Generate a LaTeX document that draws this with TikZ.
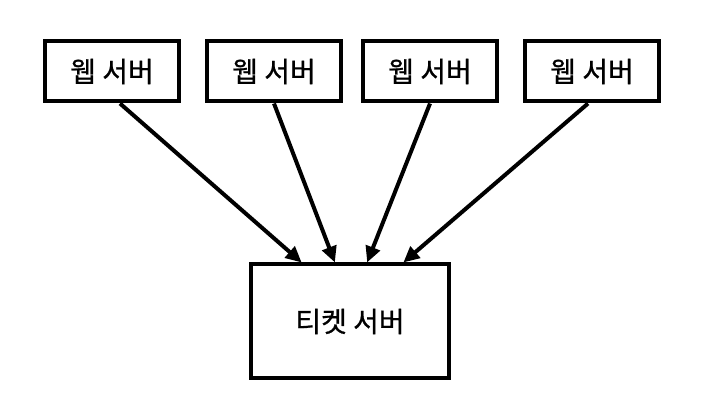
\documentclass[tikz,border=0pt]{standalone}
\usepackage{fontspec}
\setmainfont{Noto Sans CJK KR}
\newfontfamily\srvfont{Noto Sans CJK KR}[FakeBold=0.8]
\usetikzlibrary{calc,arrows.meta}
\tikzset{
  srvbox/.style={draw, line width=3pt, minimum width=101pt, minimum height=45pt, font=\fontsize{21}{25}\selectfont\srvfont},
  ticketbox/.style={draw, line width=3pt, minimum width=148pt, minimum height=85.5pt, font=\fontsize{21}{25}\selectfont\srvfont},
  req/.style={line width=3pt, -{Triangle[length=12pt,width=11pt]}}
}

\begin{document}
\begin{tikzpicture}[x=0.75pt,y=0.75pt]
\useasboundingbox (0,0) rectangle (720,420);
\node[srvbox] (w1) at (112,348.5) {웹 서버};
\node[srvbox] (w2) at (274,348.5) {웹 서버};
\node[srvbox] (w3) at (430,348.5) {웹 서버};
\node[srvbox] (w4) at (592,348.5) {웹 서버};
\node[ticketbox] (tk) at (350,98.5) {티켓 서버};
\coordinate (t1) at ($(tk.north west)!0.26!(tk.north east)$);
\coordinate (t2) at ($(tk.north west)!0.425!(tk.north east)$);
\coordinate (t3) at ($(tk.north west)!0.585!(tk.north east)$);
\coordinate (t4) at ($(tk.north west)!0.765!(tk.north east)$);
\draw[req] ([xshift=6pt]w1.south) -- (t1);
\draw[req] (w2.south) -- (t2);
\draw[req] (w3.south) -- (t3);
\draw[req] ([xshift=-3pt]w4.south) -- (t4);
\end{tikzpicture}
\end{document}
